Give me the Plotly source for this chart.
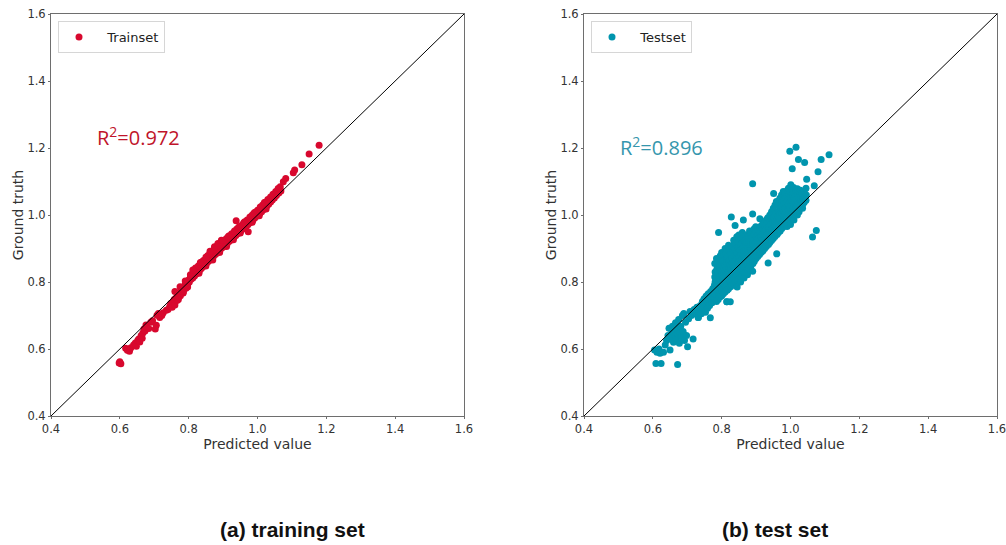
import plotly.graph_objects as go

# ---------------- data ----------------
# (predicted value, ground truth) pairs for each split
train_points = [
    (0.598, 0.558), (0.600, 0.562), (0.603, 0.556),
    (0.617, 0.602), (0.622, 0.596), (0.628, 0.593), (0.632, 0.604),
    (0.640, 0.612), (0.645, 0.618), (0.648, 0.608), (0.652, 0.625), (0.655, 0.630),
    (0.658, 0.621), (0.662, 0.640), (0.665, 0.632), (0.667, 0.648), (0.670, 0.660),
    (0.673, 0.654), (0.676, 0.672), (0.678, 0.667), (0.684, 0.661), (0.690, 0.680),
    (0.695, 0.684), (0.703, 0.660), (0.706, 0.671), (0.708, 0.701), (0.712, 0.706),
    (0.716, 0.694), (0.722, 0.700), (0.726, 0.708), (0.735, 0.716),
    (0.740, 0.718), (0.745, 0.727), (0.748, 0.736), (0.752, 0.725), (0.755, 0.742),
    (0.758, 0.748), (0.760, 0.731), (0.763, 0.752), (0.766, 0.745), (0.768, 0.760),
    (0.771, 0.755), (0.774, 0.768), (0.776, 0.759), (0.779, 0.773), (0.782, 0.778),
    (0.784, 0.767), (0.787, 0.785), (0.789, 0.790), (0.792, 0.781), (0.795, 0.797),
    (0.797, 0.791), (0.800, 0.806), (0.802, 0.800), (0.805, 0.814), (0.807, 0.808),
    (0.810, 0.820), (0.812, 0.812), (0.815, 0.826), (0.817, 0.818), (0.820, 0.831),
    (0.822, 0.824), (0.825, 0.838), (0.827, 0.830), (0.830, 0.842), (0.832, 0.835),
    (0.835, 0.848), (0.837, 0.840), (0.840, 0.853), (0.842, 0.846), (0.845, 0.858),
    (0.847, 0.850), (0.850, 0.864), (0.852, 0.856), (0.855, 0.868), (0.857, 0.861),
    (0.860, 0.874), (0.862, 0.866), (0.865, 0.880), (0.867, 0.871), (0.870, 0.885),
    (0.872, 0.877), (0.875, 0.890), (0.877, 0.882), (0.880, 0.896), (0.882, 0.886),
    (0.885, 0.899), (0.887, 0.892), (0.890, 0.905), (0.892, 0.897), (0.895, 0.910),
    (0.897, 0.902), (0.900, 0.914), (0.902, 0.906), (0.905, 0.919), (0.907, 0.911),
    (0.910, 0.922), (0.912, 0.915), (0.915, 0.928), (0.917, 0.921), (0.920, 0.931),
    (0.922, 0.925), (0.925, 0.937), (0.927, 0.930), (0.930, 0.940), (0.932, 0.934),
    (0.935, 0.945), (0.937, 0.939), (0.940, 0.950), (0.942, 0.944), (0.945, 0.955),
    (0.947, 0.948), (0.950, 0.960), (0.952, 0.953), (0.955, 0.964), (0.957, 0.958),
    (0.960, 0.969), (0.962, 0.962), (0.965, 0.974), (0.967, 0.967), (0.970, 0.978),
    (0.972, 0.971), (0.975, 0.983), (0.977, 0.976), (0.980, 0.988), (0.982, 0.981),
    (0.985, 0.992), (0.987, 0.986), (0.990, 0.997), (0.992, 0.991), (0.995, 1.002),
    (0.997, 0.996), (1.000, 1.006), (1.002, 1.000), (1.005, 1.011), (1.007, 1.005),
    (1.010, 1.016), (1.012, 1.010), (1.015, 1.022), (1.017, 1.016), (1.020, 1.028),
    (1.022, 1.021), (1.025, 1.033), (1.027, 1.027), (1.030, 1.039), (1.032, 1.032),
    (1.035, 1.045), (1.038, 1.039), (1.040, 1.051), (1.043, 1.045), (1.046, 1.058),
    (1.049, 1.051), (1.052, 1.064), (1.055, 1.058), (1.058, 1.070), (1.062, 1.066),
    (1.065, 1.078), (1.068, 1.072),
    (0.820, 0.842), (0.838, 0.860), (0.855, 0.878), (0.868, 0.892), (0.880, 0.905),
    (0.895, 0.918), (0.910, 0.930), (0.925, 0.944), (0.940, 0.958), (0.955, 0.970),
    (0.970, 0.985), (0.985, 1.000), (1.000, 1.014), (1.015, 1.030), (1.030, 1.046),
    (1.045, 1.062),
    (0.760, 0.772), (0.775, 0.786), (0.790, 0.803), (0.805, 0.822), (0.815, 0.834),
    (0.828, 0.848), (0.843, 0.864), (0.858, 0.880), (0.873, 0.896), (0.888, 0.910),
    (0.903, 0.925), (0.918, 0.938), (0.933, 0.952), (0.948, 0.966), (0.963, 0.980),
    (0.978, 0.994), (0.993, 1.008), (1.008, 1.024), (1.023, 1.038), (1.038, 1.054),
    (1.053, 1.070), (1.060, 1.079), (1.066, 1.084),
    (0.862, 0.892), (0.875, 0.905), (0.885, 0.915), (0.895, 0.925),
    (0.812, 0.836), (0.834, 0.858), (0.850, 0.874), (0.900, 0.924), (0.915, 0.936),
    (0.945, 0.963), (0.960, 0.977), (0.990, 1.006), (1.020, 1.037),
    (0.830, 0.826), (0.850, 0.848), (0.870, 0.866), (0.890, 0.888), (0.910, 0.906),
    (0.930, 0.926), (0.950, 0.946), (0.965, 0.960), (0.985, 0.978), (1.005, 0.998),
    (1.025, 1.018), (0.770, 0.748), (0.785, 0.772), (0.797, 0.785),
    (0.938, 0.983), (0.973, 0.950), (1.032, 1.033),
    (1.075, 1.099), (1.082, 1.109), (1.104, 1.126), (1.108, 1.134), (1.129, 1.150),
    (1.150, 1.182), (1.179, 1.208),
]

test_points = [
    # lower tail
    (0.605, 0.597), (0.609, 0.557), (0.612, 0.590), (0.618, 0.600), (0.621, 0.587),
    (0.624, 0.557), (0.631, 0.590), (0.636, 0.612), (0.640, 0.625), (0.644, 0.640),
    (0.647, 0.662), (0.650, 0.597), (0.652, 0.630), (0.655, 0.648), (0.657, 0.668),
    (0.660, 0.620), (0.662, 0.655), (0.664, 0.640), (0.666, 0.678), (0.668, 0.630),
    (0.670, 0.660), (0.672, 0.554), (0.673, 0.645), (0.675, 0.688), (0.677, 0.617),
    (0.679, 0.650), (0.681, 0.668), (0.683, 0.636), (0.686, 0.700), (0.688, 0.652),
    (0.690, 0.706), (0.692, 0.625), (0.695, 0.680), (0.698, 0.640), (0.701, 0.607),
    (0.704, 0.690), (0.708, 0.712), (0.712, 0.700), (0.717, 0.630), (0.720, 0.718),
    (0.724, 0.705),
    (0.728, 0.725), (0.732, 0.694), (0.735, 0.712), (0.738, 0.730), (0.741, 0.705),
    (0.744, 0.742), (0.746, 0.720), (0.749, 0.750), (0.751, 0.732), (0.753, 0.710),
    (0.755, 0.758), (0.757, 0.742), (0.759, 0.722), (0.761, 0.765), (0.763, 0.748),
    (0.765, 0.730), (0.767, 0.693), (0.768, 0.772), (0.770, 0.755), (0.772, 0.738),
    (0.774, 0.780), (0.776, 0.762), (0.778, 0.745), (0.779, 0.790),
    # main cloud
    (0.780, 0.750), (0.780, 0.765), (0.781, 0.800), (0.780, 0.815), (0.781, 0.830), (0.780, 0.855),
    (0.785, 0.742), (0.786, 0.772), (0.785, 0.790), (0.784, 0.808), (0.786, 0.838), (0.785, 0.870),
    (0.790, 0.748), (0.791, 0.760), (0.790, 0.778), (0.789, 0.795), (0.791, 0.812),
    (0.790, 0.826), (0.789, 0.845), (0.791, 0.862), (0.791, 0.948),
    (0.795, 0.755), (0.796, 0.770), (0.795, 0.787), (0.794, 0.803), (0.796, 0.820),
    (0.795, 0.835), (0.794, 0.852), (0.796, 0.878),
    (0.800, 0.758), (0.801, 0.773), (0.800, 0.790), (0.799, 0.806), (0.801, 0.822),
    (0.800, 0.840), (0.799, 0.858), (0.801, 0.872), (0.800, 0.888),
    (0.805, 0.765), (0.806, 0.780), (0.805, 0.797), (0.804, 0.813), (0.806, 0.828),
    (0.805, 0.845), (0.804, 0.862), (0.806, 0.880),
    (0.810, 0.770), (0.811, 0.785), (0.810, 0.800), (0.809, 0.815), (0.811, 0.832),
    (0.810, 0.850), (0.809, 0.866), (0.811, 0.884), (0.810, 0.900),
    (0.815, 0.741), (0.816, 0.775), (0.815, 0.792), (0.814, 0.808), (0.816, 0.823),
    (0.815, 0.840), (0.814, 0.856), (0.816, 0.872), (0.815, 0.890),
    (0.820, 0.780), (0.821, 0.795), (0.820, 0.812), (0.819, 0.828), (0.821, 0.845),
    (0.820, 0.860), (0.819, 0.877), (0.821, 0.895), (0.820, 0.910),
    (0.825, 0.741), (0.826, 0.786), (0.825, 0.802), (0.824, 0.818), (0.826, 0.835),
    (0.825, 0.850), (0.824, 0.866), (0.826, 0.882), (0.825, 0.900),
    (0.830, 0.790), (0.831, 0.806), (0.830, 0.822), (0.829, 0.840), (0.831, 0.856),
    (0.830, 0.872), (0.829, 0.888), (0.831, 0.905), (0.828, 0.994),
    (0.835, 0.795), (0.836, 0.812), (0.835, 0.828), (0.834, 0.845), (0.836, 0.860),
    (0.835, 0.878), (0.834, 0.893), (0.836, 0.910), (0.835, 0.925),
    (0.840, 0.800), (0.841, 0.815), (0.840, 0.832), (0.839, 0.848), (0.841, 0.865),
    (0.840, 0.882), (0.839, 0.898), (0.841, 0.915), (0.839, 0.969),
    (0.845, 0.785), (0.846, 0.806), (0.845, 0.822), (0.844, 0.838), (0.846, 0.855),
    (0.845, 0.870), (0.844, 0.887), (0.846, 0.903), (0.845, 0.920), (0.844, 0.935),
    (0.850, 0.810), (0.851, 0.826), (0.850, 0.842), (0.849, 0.858), (0.851, 0.875),
    (0.850, 0.890), (0.849, 0.906), (0.851, 0.922), (0.850, 0.940),
    (0.855, 0.800), (0.856, 0.815), (0.855, 0.832), (0.854, 0.848), (0.856, 0.864),
    (0.855, 0.880), (0.854, 0.896), (0.856, 0.912), (0.855, 0.928),
    (0.860, 0.820), (0.861, 0.836), (0.860, 0.852), (0.859, 0.868), (0.861, 0.885),
    (0.860, 0.900), (0.859, 0.916), (0.861, 0.932), (0.860, 0.948),
    (0.865, 0.812), (0.866, 0.828), (0.865, 0.845), (0.864, 0.860), (0.866, 0.876),
    (0.865, 0.892), (0.864, 0.908), (0.866, 0.924), (0.863, 0.985),
    (0.870, 0.830), (0.871, 0.846), (0.870, 0.862), (0.869, 0.878), (0.871, 0.894),
    (0.870, 0.910), (0.869, 0.926), (0.871, 0.940),
    (0.875, 0.822), (0.876, 0.838), (0.875, 0.855), (0.874, 0.870), (0.876, 0.886),
    (0.875, 0.902), (0.874, 0.918), (0.876, 0.935),
    (0.880, 0.840), (0.881, 0.856), (0.880, 0.872), (0.879, 0.888), (0.881, 0.904),
    (0.880, 0.920), (0.879, 0.936), (0.881, 0.952),
    (0.885, 0.848), (0.886, 0.864), (0.885, 0.880), (0.884, 0.896), (0.886, 0.912),
    (0.885, 0.928), (0.884, 0.944),
    (0.890, 0.832), (0.891, 0.855), (0.890, 0.870), (0.889, 0.886), (0.891, 0.902),
    (0.890, 0.918), (0.889, 0.934), (0.891, 0.950), (0.890, 1.003), (0.890, 1.093),
    (0.895, 0.862), (0.896, 0.878), (0.895, 0.894), (0.894, 0.910), (0.896, 0.926),
    (0.895, 0.942), (0.894, 0.958),
    (0.900, 0.870), (0.901, 0.886), (0.900, 0.902), (0.899, 0.918), (0.901, 0.934),
    (0.900, 0.950), (0.899, 0.965),
    (0.905, 0.876), (0.906, 0.892), (0.905, 0.908), (0.904, 0.924), (0.906, 0.940),
    (0.905, 0.956),
    (0.910, 0.882), (0.911, 0.898), (0.910, 0.914), (0.909, 0.930), (0.911, 0.946),
    (0.910, 0.962), (0.911, 0.989),
    (0.915, 0.888), (0.916, 0.904), (0.915, 0.920), (0.914, 0.936), (0.916, 0.952),
    (0.915, 0.968),
    (0.920, 0.893), (0.921, 0.910), (0.920, 0.926), (0.919, 0.942), (0.921, 0.958),
    (0.920, 0.974),
    (0.925, 0.900), (0.926, 0.916), (0.925, 0.932), (0.924, 0.948), (0.926, 0.964),
    (0.925, 0.980),
    (0.930, 0.906), (0.931, 0.922), (0.930, 0.938), (0.929, 0.954), (0.931, 0.970),
    (0.930, 0.986),
    (0.935, 0.857), (0.936, 0.912), (0.935, 0.928), (0.934, 0.944), (0.936, 0.960),
    (0.935, 0.976), (0.934, 0.992),
    (0.940, 0.918), (0.941, 0.934), (0.940, 0.950), (0.939, 0.966), (0.941, 0.982),
    (0.940, 1.000),
    (0.945, 0.924), (0.946, 0.940), (0.945, 0.956), (0.944, 0.972), (0.946, 0.988),
    (0.945, 1.010),
    (0.950, 0.930), (0.951, 0.946), (0.950, 0.962), (0.949, 0.978), (0.951, 0.994),
    (0.950, 1.020), (0.951, 1.064),
    (0.955, 0.936), (0.956, 0.952), (0.955, 0.968), (0.954, 0.984), (0.956, 1.000),
    (0.955, 1.030),
    (0.960, 0.884), (0.961, 0.942), (0.960, 0.958), (0.959, 0.974), (0.961, 0.990),
    (0.960, 1.006), (0.959, 1.040),
    (0.965, 0.948), (0.966, 0.964), (0.965, 0.980), (0.964, 0.996), (0.966, 1.012),
    (0.965, 1.028),
    (0.970, 0.952), (0.971, 0.970), (0.970, 0.986), (0.969, 1.002), (0.971, 1.018),
    (0.970, 1.034), (0.969, 1.050),
    (0.975, 0.960), (0.976, 0.976), (0.975, 0.992), (0.974, 1.008), (0.976, 1.024),
    (0.975, 1.040), (0.974, 1.060),
    (0.980, 0.966), (0.981, 0.982), (0.980, 0.998), (0.979, 1.014), (0.981, 1.030),
    (0.980, 1.046), (0.979, 1.070),
    (0.985, 0.972), (0.986, 0.988), (0.985, 1.004), (0.984, 1.020), (0.986, 1.036),
    (0.985, 1.052), (0.984, 1.066),
    (0.990, 0.966), (0.991, 0.978), (0.990, 0.994), (0.989, 1.010), (0.991, 1.026),
    (0.990, 1.042), (0.989, 1.058), (0.991, 1.074),
    (0.995, 0.984), (0.996, 1.000), (0.995, 1.016), (0.994, 1.032), (0.996, 1.048),
    (0.995, 1.064), (0.994, 1.080),
    (1.000, 0.972), (1.001, 0.990), (1.000, 1.006), (0.999, 1.022), (1.001, 1.038),
    (1.000, 1.054), (0.999, 1.070), (1.001, 1.090),
    (1.005, 0.996), (1.006, 1.012), (1.005, 1.028), (1.004, 1.044), (1.006, 1.060),
    (1.005, 1.076), (1.005, 1.138),
    (1.010, 0.985), (1.011, 1.002), (1.010, 1.018), (1.009, 1.034), (1.011, 1.050),
    (1.010, 1.066), (1.009, 1.082),
    (1.015, 1.008), (1.016, 1.024), (1.015, 1.040), (1.014, 1.056), (1.016, 1.072),
    (1.020, 1.000), (1.021, 1.014), (1.020, 1.030), (1.019, 1.046), (1.021, 1.062),
    (1.020, 1.078),
    (1.025, 1.010), (1.026, 1.020), (1.025, 1.036), (1.024, 1.052), (1.026, 1.068),
    (1.030, 1.026), (1.031, 1.042), (1.030, 1.058), (1.029, 1.074),
    (1.035, 1.020), (1.036, 1.032), (1.035, 1.048), (1.034, 1.064),
    (1.040, 1.038), (1.041, 1.054), (1.040, 1.070),
    (1.045, 1.044), (1.046, 1.060), (1.045, 1.080),
    # scattered outliers
    (1.016, 1.202), (0.998, 1.190), (1.023, 1.166), (1.041, 1.157), (1.112, 1.180),
    (1.089, 1.166), (1.080, 1.129), (1.047, 1.107), (1.069, 1.087), (1.075, 0.954),
    (1.064, 0.934), (0.815, 0.741), (0.732, 0.694),
]

train_pred = [p for p, _ in train_points]
train_true = [t for _, t in train_points]
test_pred = [p for p, _ in test_points]
test_true = [t for _, t in test_points]

tick_vals = [0.4, 0.6, 0.8, 1.0, 1.2, 1.4, 1.6]
axis_range = [0.4, 1.6]
r2_train = "0.972"
r2_test = "0.896"

# ---------------- styling ----------------
W, H = 1006, 545
TRAIN_COLOR = "#d8082e"
TEST_COLOR = "#0095ae"
TRAIN_TEXT = "#c0142a"
TEST_TEXT = "#3596ad"
SPINE = "#6e6e6e"
TICK_FONT = dict(family="DejaVu Sans", size=11.5, color="#333333")
TITLE_FONT = dict(family="DejaVu Sans", size=14, color="#333333")

# panel boxes in pixels: (left, right), shared top/bottom
panels = [(51, 464), (584, 997)]
top_px, bottom_px = 14, 416
y_dom = [(H - bottom_px) / H, (H - top_px) / H]

fig = go.Figure()

series = [
    ("Trainset", train_pred, train_true, TRAIN_COLOR, "x", "y", "legend"),
    ("Testset", test_pred, test_true, TEST_COLOR, "x2", "y2", "legend2"),
]
for name, xs, ys, color, xa, ya, lg in series:
    fig.add_trace(go.Scatter(
        x=xs, y=ys, mode="markers", name="\u00a0\u00a0" + name,
        marker=dict(color=color, size=7, line=dict(width=0)),
        xaxis=xa, yaxis=ya, legend=lg,
    ))
    # identity reference line y = x
    fig.add_trace(go.Scatter(
        x=axis_range, y=axis_range, mode="lines",
        line=dict(color="black", width=1), showlegend=False,
        xaxis=xa, yaxis=ya, hoverinfo="skip",
    ))

axis_common = dict(
    range=axis_range, tickvals=tick_vals, tickformat=".1f",
    showgrid=False, zeroline=False, showline=True, mirror=True,
    linecolor=SPINE, linewidth=1, ticks="outside", ticklen=2,
    tickcolor=SPINE, tickfont=TICK_FONT, automargin=False,
    ticklabeloverflow="allow",
)

layout = dict(
    width=W, height=H, margin=dict(l=0, r=0, t=0, b=0, autoexpand=False),
    paper_bgcolor="white", plot_bgcolor="white",
    showlegend=True,
)
for i, (l, r) in enumerate(panels):
    sfx = "" if i == 0 else str(i + 1)
    layout["xaxis" + sfx] = dict(
        axis_common, domain=[l / W, r / W],
        anchor="y" + sfx,
        title=dict(text="Predicted value", font=TITLE_FONT, standoff=0),
    )
    layout["yaxis" + sfx] = dict(
        axis_common, domain=y_dom,
        anchor="x" + sfx,
        title=dict(text="Ground truth", font=TITLE_FONT, standoff=0),
    )
    layout["legend" + sfx] = dict(
        x=(l + 7) / W, y=(H - top_px - 7) / H,
        xanchor="left", yanchor="top",
        bgcolor="white", bordercolor="#d6d6d6", borderwidth=1,
        font=dict(family="DejaVu Sans", size=13, color="#222222"),
        itemsizing="trace", tracegroupgap=0,
    )
fig.update_layout(**layout)

# R² annotations
fig.add_annotation(
    x=95 / W, y=(H - 137) / H, xref="paper", yref="paper",
    xanchor="left", yanchor="middle",
    text="R<sup>2</sup>=" + r2_train, showarrow=False,
    font=dict(family="Open Sans", size=20, color=TRAIN_TEXT),
)
fig.add_annotation(
    x=618 / W, y=(H - 146) / H, xref="paper", yref="paper",
    xanchor="left", yanchor="middle",
    text="R<sup>2</sup>=" + r2_test, showarrow=False,
    font=dict(family="Open Sans", size=20, color=TEST_TEXT),
)

# panel captions
for text, cx in [("(a) training set", 292), ("(b) test set", 775)]:
    fig.add_annotation(
        x=cx / W, y=(H - 529) / H, xref="paper", yref="paper",
        xanchor="center", yanchor="middle",
        text="<b>" + text + "</b>", showarrow=False,
        font=dict(family="Liberation Sans, Arial", size=21, color="#111111"),
    )

fig.write_html("out.html")
